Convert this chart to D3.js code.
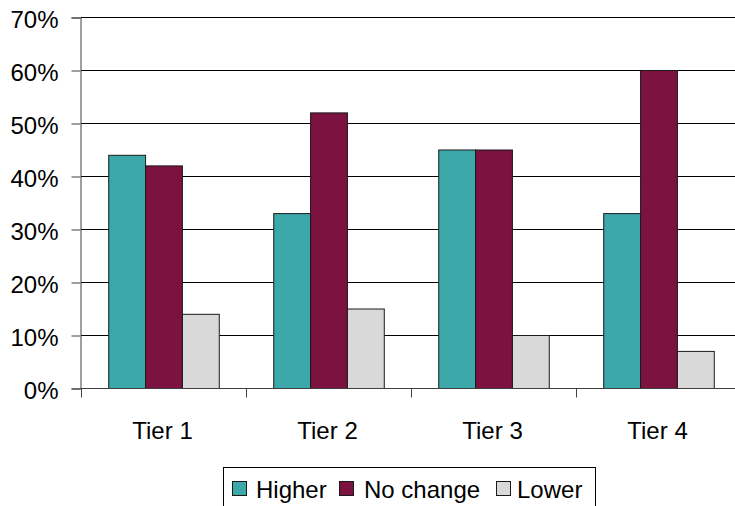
<!DOCTYPE html>
<html>
<head>
<meta charset="utf-8">
<script src="https://cdn.jsdelivr.net/npm/d3@7"></script>
<style>
  html, body { margin: 0; padding: 0; background: #fff; }
  svg { display: block; font-family: "Liberation Sans", Arial, sans-serif; }
</style>
</head>
<body>
<svg id="chart" width="735" height="506"></svg>
<script>
// Share of responses per tier
const categories = ["Tier 1", "Tier 2", "Tier 3", "Tier 4"];
const seriesNames = ["Higher", "No change", "Lower"];
const higher   = [0.44, 0.33, 0.45, 0.33];
const noChange = [0.42, 0.52, 0.45, 0.60];
const lower    = [0.14, 0.15, 0.10, 0.07];
const yTicks = [0, 0.1, 0.2, 0.3, 0.4, 0.5, 0.6, 0.7];
const colors = ["#3da8a9", "#7b1240", "#d9d9d9"];

const seriesValues = [higher, noChange, lower];
const rows = categories.map((c, i) => ({
  category: c,
  values: seriesNames.map((s, j) => ({ key: s, value: seriesValues[j][i] }))
}));

const svg = d3.select("#chart");
const plotLeft = 81, plotRight = 741, plotTop = 17.5, plotBottom = 388.5;

const y = d3.scaleLinear().domain([0, 0.7]).range([plotBottom, plotTop]);
const x0 = d3.scaleBand().domain(categories).range([plotLeft, plotRight])
  .paddingInner(0.33).paddingOuter(0.165);
const x1 = d3.scaleBand().domain(seriesNames).range([0, x0.bandwidth()]);
const color = d3.scaleOrdinal().domain(seriesNames).range(colors);

// horizontal gridlines
svg.append("g").selectAll("line").data(yTicks.filter(d => d > 0)).join("line")
  .attr("x1", plotLeft).attr("x2", plotRight)
  .attr("y1", d => y(d)).attr("y2", d => y(d))
  .attr("stroke", "#000").attr("stroke-width", 1);

// bars
const groups = svg.append("g").selectAll("g").data(rows).join("g")
  .attr("transform", d => `translate(${x0(d.category)},0)`);
groups.selectAll("rect").data(d => d.values).join("rect")
  .attr("x", d => x1(d.key) + 0.5)
  .attr("y", d => y(d.value))
  .attr("width", x1.bandwidth())
  .attr("height", d => y(0) - y(d.value))
  .attr("fill", d => color(d.key))
  .attr("stroke", "#1a1a1a").attr("stroke-width", 1);

// y axis
const yAxis = svg.append("g").attr("transform", `translate(${plotLeft - 0.5},0)`)
  .call(d3.axisLeft(y).tickValues(yTicks).tickFormat(d3.format(".0%"))
    .tickSize(9).tickPadding(13));
yAxis.select(".domain").attr("stroke", "#404040");
yAxis.selectAll(".tick line").attr("stroke", "#404040");
yAxis.selectAll(".tick text").attr("font-size", 24)
  .attr("font-family", "Liberation Sans, Arial, sans-serif")
  .attr("fill", "#000").attr("dy", "10px");

// x axis: baseline, boundary ticks, category labels
const xg = svg.append("g");
xg.append("line").attr("x1", plotLeft - 0.5).attr("x2", plotRight)
  .attr("y1", plotBottom).attr("y2", plotBottom).attr("stroke", "#404040");
const bounds = categories.map(c => x0(c) - x0.step() * x0.paddingInner() / 2)
  .concat([plotRight]);
xg.selectAll("line.b").data(bounds).join("line").attr("class", "b")
  .attr("x1", d => Math.round(d) + 0.5).attr("x2", d => Math.round(d) + 0.5)
  .attr("y1", plotBottom).attr("y2", plotBottom + 9).attr("stroke", "#404040");
xg.selectAll("text").data(categories).join("text")
  .attr("x", d => x0(d) + x0.bandwidth() / 2 - 1)
  .attr("y", 439)
  .attr("text-anchor", "middle")
  .attr("font-size", 24).attr("fill", "#000")
  .text(d => d);

// legend
const lg = svg.append("g");
lg.append("rect").attr("x", 223.5).attr("y", 467.5).attr("width", 372).attr("height", 50)
  .attr("fill", "#fff").attr("stroke", "#000");
const swatchX = [232, 339, 496];
const labelX = [256, 364, 517];
const items = lg.selectAll("g").data(seriesNames).join("g");
items.append("rect").attr("x", (d, i) => swatchX[i] + 0.5).attr("y", 481.5)
  .attr("width", 14).attr("height", 14)
  .attr("fill", d => color(d)).attr("stroke", "#1a1a1a");
items.append("text").attr("x", (d, i) => labelX[i]).attr("y", 498)
  .attr("font-size", 24).attr("fill", "#000").text(d => d);
</script>
</body>
</html>
